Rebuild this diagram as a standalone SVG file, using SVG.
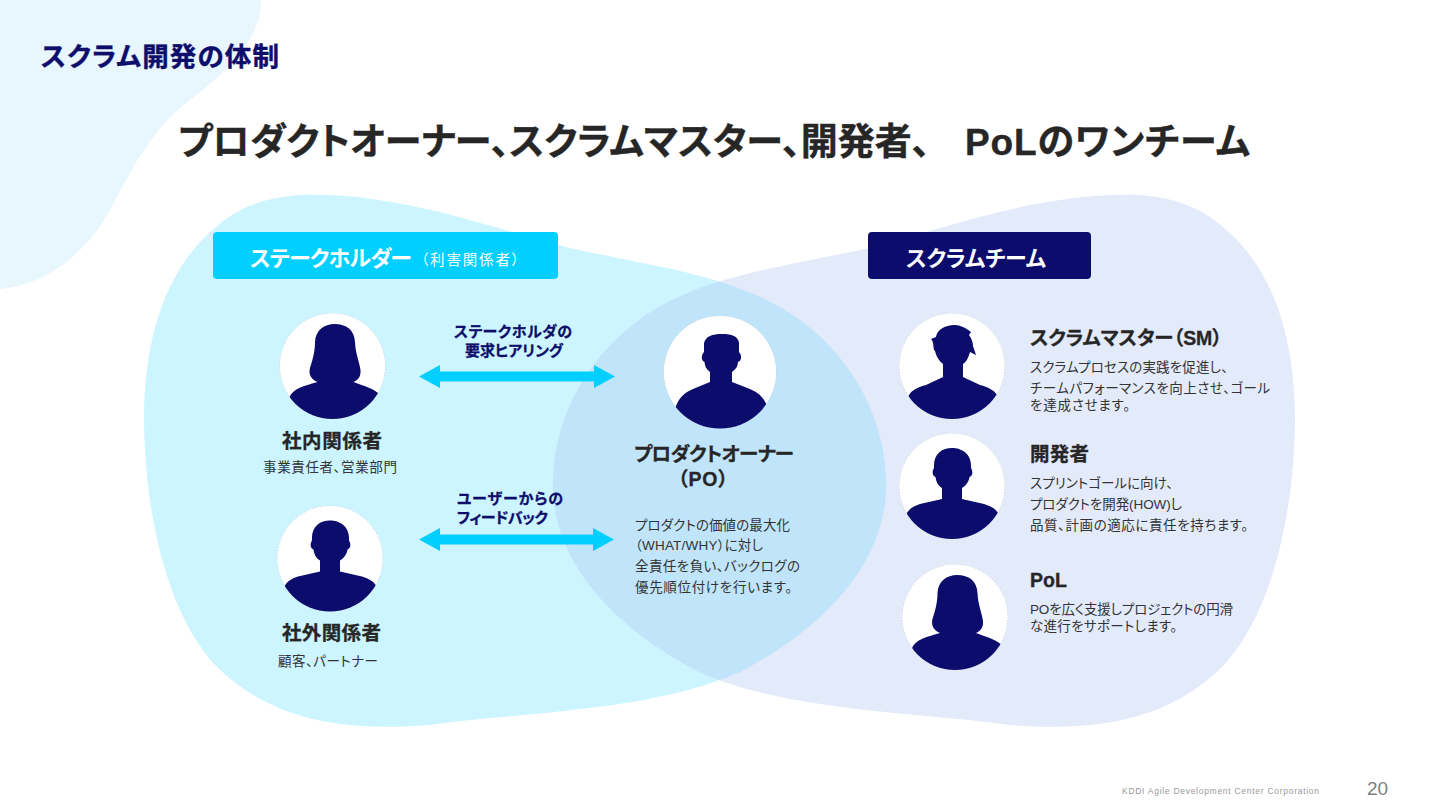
<svg xmlns="http://www.w3.org/2000/svg" xmlns:xlink="http://www.w3.org/1999/xlink" width="1440" height="810" viewBox="0 0 1440 810">
<style>
text{font-family:"Liberation Sans","Noto Sans CJK JP",sans-serif;font-feature-settings:"palt";fill:#262626}
.h{font-weight:700;font-size:19.5px;stroke:#262626;stroke-width:.3px}
.d{font-size:13.5px;fill:#333}
.n{font-weight:700;font-size:15px;fill:#0d0d6b;stroke:#0d0d6b;stroke-width:.3px}
.w{fill:#fff}
.c{text-anchor:middle}
.disc{fill:#fff;stroke:#777;stroke-width:.5;stroke-dasharray:1 2}
.sil{fill:#0c0c6c}
.arrow{stroke:#00cfff;stroke-width:10;fill:none;marker-start:url(#head);marker-end:url(#head)}
</style>
<defs>
<path id="blob" d="M300,195 C400,192 490,228 570,248 C660,268 740,276 800,320 C860,364 888,430 886,490 C884,560 830,625 740,672 C650,712 520,712 430,725 C340,732 270,720 215,665 C165,610 145,510 144,420 C144,330 170,265 215,228 C240,205 270,197 300,195 Z"/>
<clipPath id="leftClip"><use href="#blob"/></clipPath>
<marker id="head" markerUnits="userSpaceOnUse" markerWidth="22" markerHeight="24" refX="1" refY="12" orient="auto-start-reverse"><path d="M0,0.5 L21,12 L0,23.5 Z" fill="#00cfff"/></marker>
<clipPath id="r53"><circle r="53"/></clipPath>
<clipPath id="r57"><circle r="56.5"/></clipPath>
<path id="female" d="M-42,29 C-38,23 -30,20 -15,16 C-22,13 -24,8 -22.500,2 C-20,-6 -17.500,-14 -17.500,-24 C-17,-36 -8,-42 2,-42 C14,-42 22,-36 22.500,-24 C23,-12 27,-4 28,4 C28.500,10 26,14 21,16 C32,20 42,23 48,29 L60,70 L-60,70 Z"/>
<path id="male" d="M-45,27 C-42,22 -38,20 -32,18 L-10,13 L-10,2 C-14,0 -16,-5 -16.500,-9 C-20,-10 -20,-15 -18,-18 C-19,-32 -10,-38 0,-38 C10,-38 20,-32 19,-18 C21,-15 21,-10 17.500,-9 C17,-5 14,0 10,2 L10,13 L32,18 C38,20 43,22 46,27 L60,70 L-60,70 Z"/>
<path id="spiky" d="M-43,29 C-40,24 -34,21 -26,19 L-9,11 L-9,-2 C-13,-5 -16,-10 -17,-15 L-18,-16 C-19,-20 -18,-24 -21,-27 L-16,-29 C-15,-36 -8,-41 3,-41 C8,-41 14,-38 19,-34 L17,-31 C20,-27 21,-23 21,-20 L24,-11 L18,-14 C16,-7 14,-4 11,-2 L11,11 L28,19 C36,21 42,24 45,29 L60,70 L-60,70 Z"/>
<path id="owner" d="M-44,34 C-40,24 -34,20 -27,17 L-10,10 L-10,0 C-14,-3 -15,-6 -15.500,-10 C-19,-11 -19,-17 -16,-20 L-16,-29 C-14,-36 -8,-38 2,-38 C12,-38 18,-36 19,-29 L19,-20 C22,-17 22,-11 18,-10 C18,-6 16,-3 12,0 L12,10 L30,17 C37,20 43,24 47,34 L60,70 L-60,70 Z"/>
</defs>
<rect width="1440" height="810" fill="#fff"/>
<path d="M0,0 L261,0 C262,35 232,68 190,100 C150,130 132,170 110,210 C85,255 45,285 0,289 Z" fill="#e8f6fd"/>
<g id="blobs">
<use href="#blob" fill="#ccf5ff"/>
<use href="#blob" transform="matrix(-1 0 0 1 1439 0)" fill="#e3eafa"/>
<g clip-path="url(#leftClip)"><use href="#blob" transform="matrix(-1 0 0 1 1439 0)" fill="#c0e4fa"/></g>
</g>
<text x="41" y="66" textLength="238" style="font-weight:700;font-size:26.500px;fill:#0d0d6b;stroke:#0d0d6b;stroke-width:.4px">スクラム開発の体制</text>
<text x="178" y="155" style="font-weight:700;font-size:37px;stroke:#262626;stroke-width:.4px">プロダクトオーナー、スクラムマスター、開発者、</text>
<text x="965" y="155" textLength="285" style="font-weight:700;font-size:37px;stroke:#262626;stroke-width:.4px">PoLのワンチーム</text>
<g id="stakeholder-header">
<rect x="213" y="232" width="345" height="47" rx="4" fill="#00cfff"/>
<text x="250" y="266" class="w" textLength="162" style="font-weight:700;font-size:22px">ステークホルダー</text>
<text x="421" y="265" class="w" textLength="98" style="font-size:14.500px">（利害関係者）</text>
</g>
<g id="scrum-header">
<rect x="868" y="232" width="223" height="47" rx="4" fill="#0c0c6c"/>
<text x="906" y="266" class="w" textLength="140" style="font-weight:700;font-size:22px">スクラムチーム</text>
</g>
<g id="connectors">
<line class="arrow" x1="439" y1="376.500" x2="595" y2="376.500"/>
<line class="arrow" x1="439" y1="539.500" x2="594" y2="539.500"/>
</g>
<g id="label-hearing">
<text x="454" y="337" class="n" textLength="118">ステークホルダの</text>
<text x="465" y="356" class="n" textLength="98">要求ヒアリング</text>
</g>
<g id="label-feedback">
<text x="457" y="504" class="n" textLength="106">ユーザーからの</text>
<text x="457" y="523" class="n" textLength="91">フィードバック</text>
</g>
<g id="internal">
<g transform="translate(332.500,366)" clip-path="url(#r53)"><circle r="53" class="disc"/><use href="#female" class="sil"/></g>
<text x="282" y="448" class="h" textLength="100">社内関係者</text>
<text x="263" y="472" class="d" textLength="134">事業責任者、営業部門</text>
</g>
<g id="external">
<g transform="translate(330,558.500)" clip-path="url(#r53)"><circle r="53" class="disc"/><use href="#male" class="sil"/></g>
<text x="282" y="640" class="h" textLength="99">社外関係者</text>
<text x="278" y="666" class="d" textLength="100">顧客、パートナー</text>
</g>
<g id="product-owner">
<g transform="translate(720,372)" clip-path="url(#r57)"><circle r="56.500" class="disc"/><use href="#owner" class="sil"/></g>
<text x="634" y="461" class="h" textLength="160">プロダクトオーナー</text>
<text x="678" y="486" class="h" textLength="50">（PO）</text>
<text x="635" y="530" class="d" textLength="155">プロダクトの価値の最大化</text>
<text x="635" y="550" class="d" textLength="128">（WHAT/WHY）に対し</text>
<text x="635" y="571" class="d" textLength="165">全責任を負い、バックログの</text>
<text x="635" y="592" class="d" textLength="157">優先順位付けを行います。</text>
</g>
<g id="scrum-master">
<g transform="translate(952,366)" clip-path="url(#r53)"><circle r="53" class="disc"/><use href="#spiky" class="sil"/></g>
<text x="1030" y="345" class="h" textLength="192">スクラムマスター（SM）</text>
<text x="1030" y="372" class="d" textLength="198">スクラムプロセスの実践を促進し、</text>
<text x="1030" y="393" class="d" textLength="240">チームパフォーマンスを向上させ、ゴール</text>
<text x="1030" y="410" class="d" textLength="100">を達成させます。</text>
</g>
<g id="developer">
<g transform="translate(952,486)" clip-path="url(#r53)"><circle r="53" class="disc"/><use href="#male" class="sil"/></g>
<text x="1030" y="461" class="h" textLength="59">開発者</text>
<text x="1030" y="488" class="d" textLength="143">スプリントゴールに向け、</text>
<text x="1030" y="509" class="d" textLength="152">プロダクトを開発(HOW)し</text>
<text x="1030" y="530" class="d" textLength="218">品質、計画の適応に責任を持ちます。</text>
</g>
<g id="pol">
<g transform="translate(955,617)" clip-path="url(#r53)"><circle r="53" class="disc"/><use href="#female" class="sil"/></g>
<text x="1030" y="587" class="h" textLength="37">PoL</text>
<text x="1030" y="614" class="d" textLength="203">POを広く支援しプロジェクトの円滑</text>
<text x="1030" y="631" class="d" textLength="147">な進行をサポートします。</text>
</g>
<text x="1122" y="794" style="font-size:8.500px;fill:#999;letter-spacing:.72px">KDDI Agile Development Center Corporation</text>
<text x="1367" y="795" style="font-size:19px;fill:#808080">20</text>
</svg>
